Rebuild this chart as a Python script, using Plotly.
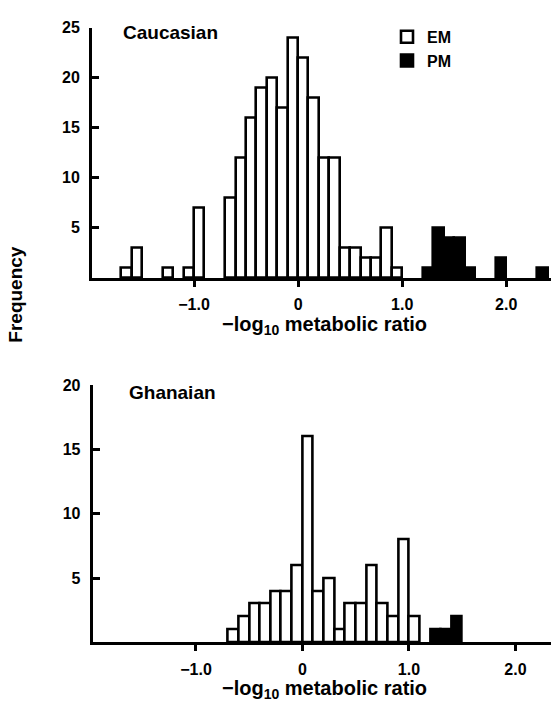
import numpy as np
import plotly.graph_objects as go

# ---- data (bin left edges, bin width 0.1) ----
bin_width = 0.1
cau_em_left = [-1.7, -1.6, -1.3, -1.1, -1.0, -0.7, -0.6, -0.5, -0.4, -0.3, -0.2, -0.1,
               0.0, 0.1, 0.2, 0.3, 0.4, 0.5, 0.6, 0.7, 0.8, 0.9]
cau_em_freq = [1, 3, 1, 1, 7, 8, 12, 16, 19, 20, 17, 24, 22, 18, 12, 12, 3, 3, 2, 2, 5, 1]
cau_pm_left = [1.2, 1.3, 1.4, 1.5, 1.6, 1.9, 2.3]
cau_pm_freq = [1, 5, 4, 4, 1, 2, 1]

gha_em_left = [-0.7, -0.6, -0.5, -0.4, -0.3, -0.2, -0.1, 0.0, 0.1, 0.2, 0.3, 0.4,
               0.5, 0.6, 0.7, 0.8, 0.9, 1.0]
gha_em_freq = [1, 2, 3, 3, 4, 4, 6, 16, 4, 5, 1, 3, 3, 6, 3, 2, 8, 2]
gha_pm_left = [1.2, 1.3, 1.4]
gha_pm_freq = [1, 1, 2]

x_tickvals = [-1, 0, 1, 2]
x_ticktext = ["\u22121.0", "0", "1.0", "2.0"]
cau_yticks = [5, 10, 15, 20, 25]
gha_yticks = [5, 10, 15, 20]

W, H = 551, 701
FONT = "Liberation Sans, Arial, Helvetica, sans-serif"


def px_x(p):
    return p / W


def px_y(p):
    return 1 - p / H


def centers(left):
    return np.array(left) + bin_width / 2


fig = go.Figure()

em_style = dict(marker=dict(color="white", line=dict(color="black", width=2.6)))
pm_style = dict(marker=dict(color="black", line=dict(color="black", width=2.6)))

fig.add_trace(go.Bar(x=centers(cau_em_left), y=cau_em_freq, width=bin_width, name="EM",
                     xaxis="x", yaxis="y", showlegend=True, **em_style))
fig.add_trace(go.Bar(x=centers(cau_pm_left), y=cau_pm_freq, width=bin_width, name="PM",
                     xaxis="x", yaxis="y", showlegend=True, **pm_style))
fig.add_trace(go.Bar(x=centers(gha_em_left), y=gha_em_freq, width=bin_width, name="EM",
                     xaxis="x2", yaxis="y2", showlegend=False, **em_style))
fig.add_trace(go.Bar(x=centers(gha_pm_left), y=gha_pm_freq, width=bin_width, name="PM",
                     xaxis="x2", yaxis="y2", showlegend=False, **pm_style))

tickfont = dict(family=FONT, size=16, color="black", weight="bold")
ytickfont = dict(family=FONT, size=16, color="black", weight="bold")

xcommon = dict(showline=True, linecolor="black", linewidth=3, showgrid=False, zeroline=False,
               ticks="outside", ticklen=6, tickwidth=2.5, tickcolor="black",
               tickvals=x_tickvals, ticktext=x_ticktext, tickfont=tickfont,
               ticklabelstandoff=4)
ycommon = dict(showline=True, linecolor="black", linewidth=3, showgrid=False, zeroline=False,
               ticks="inside", ticklen=7, tickwidth=2.5, tickcolor="black",
               tickfont=ytickfont, ticklabelstandoff=6)

fig.update_layout(
    width=W, height=H,
    margin=dict(l=0, r=0, t=0, b=0),
    paper_bgcolor="white", plot_bgcolor="white",
    barmode="overlay", bargap=0,
    xaxis=dict(domain=[px_x(92), 1], range=[-1.98, 2.43], anchor="y", **xcommon),
    yaxis=dict(domain=[px_y(273), px_y(20)], range=[0, 25], anchor="x",
               tickvals=cau_yticks, **ycommon),
    xaxis2=dict(domain=[px_x(92.7), 1], range=[-1.97, 2.334], anchor="y2", **xcommon),
    yaxis2=dict(domain=[px_y(641.7), px_y(381.7)], range=[0, 20], anchor="x2",
                tickvals=gha_yticks, **ycommon),
    showlegend=True,
    legend=dict(x=px_x(387), y=px_y(12), xanchor="left", yanchor="top",
                bgcolor="rgba(0,0,0,0)", tracegroupgap=0,
                font=dict(family=FONT, size=16, color="black", weight="bold")),
    font=dict(family=FONT, color="black"),
)

title_font = dict(family=FONT, size=20, color="black", weight="bold")
label_font = dict(family=FONT, size=19, color="black", weight="bold")

annotations = [
    dict(text="Caucasian", x=px_x(121), y=px_y(25), xref="paper", yref="paper",
         xanchor="left", yanchor="middle", showarrow=False, font=label_font),
    dict(text="Ghanaian", x=px_x(127), y=px_y(389), xref="paper", yref="paper",
         xanchor="left", yanchor="middle", showarrow=False, font=label_font),
    dict(text="\u2212log<sub>10</sub> metabolic ratio", x=px_x(324), y=px_y(321),
         xref="paper", yref="paper", xanchor="center", yanchor="middle",
         showarrow=False, font=title_font),
    dict(text="\u2212log<sub>10</sub> metabolic ratio", x=px_x(324), y=px_y(689),
         xref="paper", yref="paper", xanchor="center", yanchor="middle",
         showarrow=False, font=title_font),
    dict(text="Frequency", x=px_x(16), y=px_y(290), xref="paper", yref="paper",
         xanchor="center", yanchor="middle", textangle=-90, showarrow=False,
         font=dict(family=FONT, size=19, color="black", weight="bold")),
]
fig.update_layout(annotations=annotations)

fig.write_html(
    "out.html",
    config={"displayModeBar": False},
    post_script="document.body.style.margin='0';document.body.style.overflow='hidden';",
)
